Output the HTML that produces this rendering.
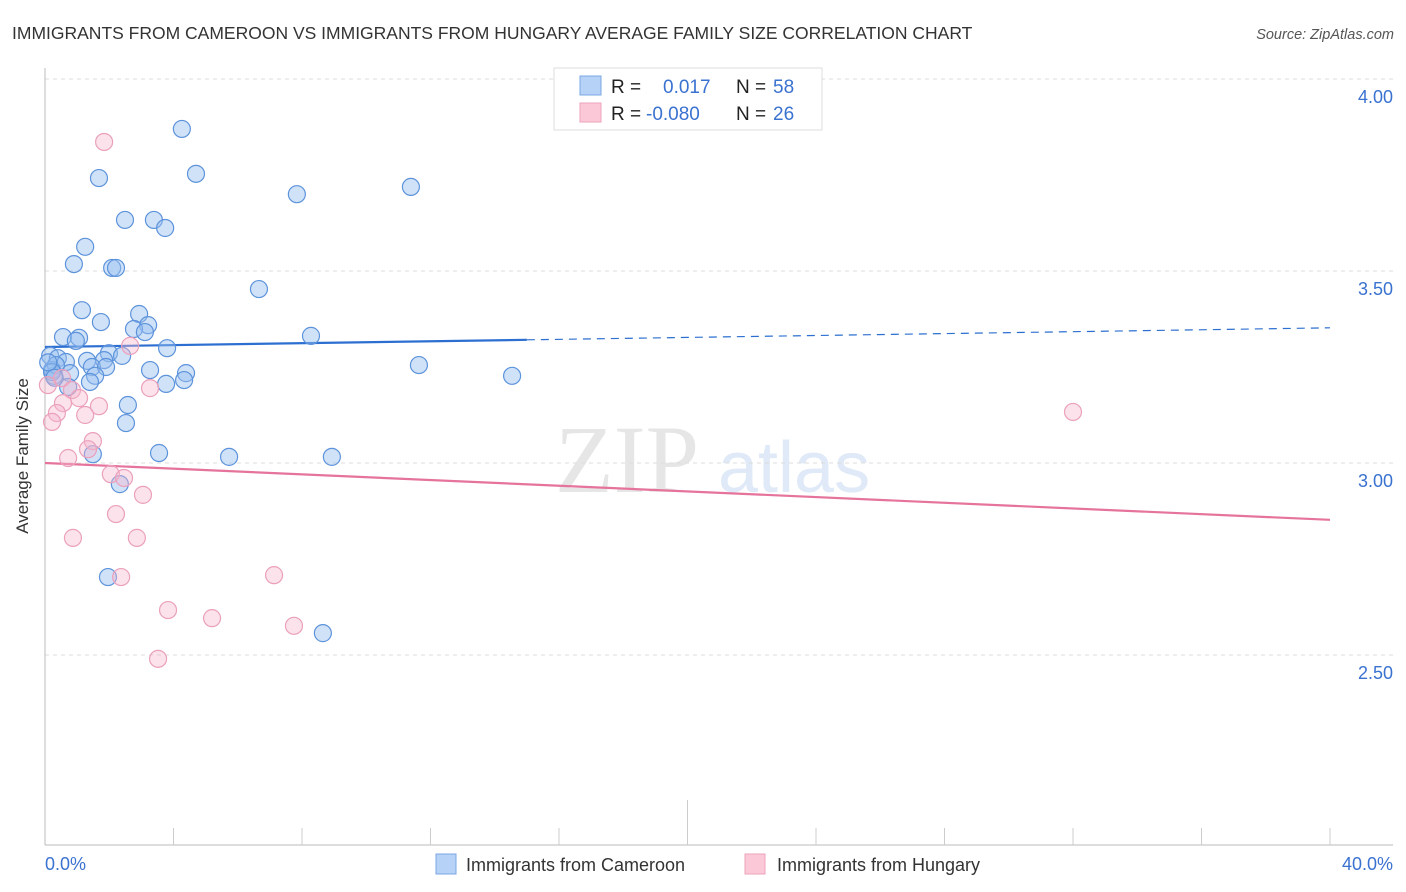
<!DOCTYPE html>
<html><head><meta charset="utf-8"><style>
body{margin:0;background:#fff;font-family:"Liberation Sans",sans-serif;}
svg{display:block}
</style></head><body>
<svg id="chart" width="1406" height="892" xmlns="http://www.w3.org/2000/svg">
<text x="12" y="39" font-size="17.5" fill="#333">IMMIGRANTS FROM CAMEROON VS IMMIGRANTS FROM HUNGARY AVERAGE FAMILY SIZE CORRELATION CHART</text>
<text x="1394" y="39" font-size="14.5" fill="#555" font-style="italic" text-anchor="end">Source: ZipAtlas.com</text>
<g>
<text x="555" y="492" font-family="Liberation Serif,serif" font-size="96" fill="#e6e6e6">ZIP</text>
<text x="718" y="492" font-size="72" fill="#dfe9f7">atlas</text>
</g>
<g id="grid"></g>
<g id="axes"></g>
<g id="lines"></g>
<g id="points"></g>
<text x="28" y="456" font-size="17" fill="#333" text-anchor="middle" transform="rotate(-90 28 456)">Average Family Size</text>
<g>
<rect x="554" y="68" width="268" height="62" fill="#fff" stroke="#ddd"/>
<rect x="580" y="76" width="21" height="19" fill="#b6d3f7" stroke="#7aa7e3"/>
<rect x="580" y="103" width="21" height="19" fill="#fbc8d7" stroke="#eea3bb"/>
<text y="93" font-size="19"><tspan x="611" fill="#222">R = </tspan><tspan x="663" fill="#3a72d0">0.017</tspan><tspan x="736" fill="#222">N = </tspan><tspan x="773" fill="#3a72d0">58</tspan></text>
<text y="120" font-size="19"><tspan x="611" fill="#222">R = </tspan><tspan x="646" fill="#3a72d0">-0.080</tspan><tspan x="736" fill="#222">N = </tspan><tspan x="773" fill="#3a72d0">26</tspan></text>
</g>
<g>
<rect x="436" y="854" width="20" height="20" fill="#b6d3f7" stroke="#7aa7e3"/>
<text x="466" y="871" font-size="18" fill="#333">Immigrants from Cameroon</text>
<rect x="745" y="854" width="20" height="20" fill="#fbc8d7" stroke="#eea3bb"/>
<text x="777" y="871" font-size="18" fill="#333">Immigrants from Hungary</text>
</g>
</svg>
<script>
const yTicks=[2.5,3.0,3.5,4.0];
const yTickLabels=["2.50","3.00","3.50","4.00"];
const xLabels=["0.0%","40.0%"];
const camX=[4.26,1.68,4.70,7.84,11.39,2.49,3.39,3.74,1.25,0.90,2.09,2.21,6.66,1.15,2.93,1.74,3.21,2.77,3.11,0.56,8.28,1.06,0.96,3.80,1.99,2.40,0.16,0.40,1.31,0.65,1.84,1.46,1.90,11.64,3.27,4.39,0.78,1.56,0.28,14.54,4.33,1.40,3.77,0.72,2.58,2.52,3.55,1.49,5.73,8.93,2.33,1.96,8.65,0.22,0.34,0.22,0.10,0.30];
const camY=[3.870,3.742,3.753,3.700,3.719,3.633,3.633,3.612,3.563,3.518,3.508,3.508,3.453,3.398,3.388,3.367,3.359,3.349,3.341,3.328,3.331,3.326,3.318,3.299,3.286,3.279,3.279,3.273,3.266,3.263,3.268,3.250,3.250,3.255,3.242,3.234,3.234,3.227,3.227,3.227,3.216,3.211,3.206,3.198,3.151,3.104,3.026,3.023,3.016,3.016,2.945,2.703,2.557,3.242,3.255,3.237,3.262,3.222];
const hunX=[1.84,2.65,0.09,0.53,0.84,3.27,1.06,0.56,1.68,0.37,1.25,0.22,1.49,1.34,32.0,0.72,2.05,2.46,3.05,2.21,0.87,2.86,2.37,7.13,3.83,5.20,7.75,3.52];
const hunY=[3.836,3.305,3.203,3.221,3.190,3.195,3.169,3.156,3.148,3.130,3.125,3.107,3.057,3.036,3.133,3.013,2.971,2.961,2.917,2.867,2.805,2.805,2.703,2.708,2.617,2.596,2.576,2.490];
const camTrend=[3.302,3.352];
const hunTrend=[3.0,2.852];
const camSolidEnd=15;
const NS="http://www.w3.org/2000/svg";
const X0=45,X1=1330;
const sx=v=>X0+v/40*(X1-X0);
const sy=v=>463-(v-3)*384;
function mk(tag,attrs,parent){const e=document.createElementNS(NS,tag);for(const k in attrs)e.setAttribute(k,attrs[k]);parent.appendChild(e);return e;}
const grid=document.getElementById('grid'),axes=document.getElementById('axes'),lines=document.getElementById('lines'),pts=document.getElementById('points');
yTicks.forEach((t,i)=>{
 const l=mk('line',{x1:X0,x2:1393,y1:sy(t),y2:sy(t),stroke:'#ddd','stroke-dasharray':'4,4'},grid);
 
 
 const tx=mk('text',{x:1393,y:sy(t)+24,'font-size':18,fill:'#3a72d0','text-anchor':'end'},grid);
 tx.textContent=yTickLabels[i];
 
 
});
const la=mk('line',{x1:X0,x2:X0,y1:68,y2:845,stroke:'#bbb'},axes);


const ba=mk('line',{x1:X0,x2:1393,y1:845,y2:845,stroke:'#bbb'},axes);


for(let i=1;i<=10;i++){
 const v=i*4;
 const tk=mk('line',{x1:sx(v),x2:sx(v),y1:(i==5?800:828),y2:845,stroke:'#ccc'},axes);
 
 
}
[[0,'start',45],[40,'end',1393]].forEach((d,i)=>{
 const t=mk('text',{x:d[2],y:870,'font-size':18,fill:'#3a72d0','text-anchor':d[1]},axes);
 t.textContent=xLabels[i];
 
 
});
const cy=v=>camTrend[0]+(camTrend[1]-camTrend[0])*v/40;
const c1=mk('line',{x1:sx(0),y1:sy(cy(0)),x2:sx(camSolidEnd),y2:sy(cy(camSolidEnd)),stroke:'#2c6fd1','stroke-width':2.2},lines);


const c2=mk('line',{x1:sx(camSolidEnd),y1:sy(cy(camSolidEnd)),x2:sx(40),y2:sy(cy(40)),stroke:'#2c6fd1','stroke-width':1.2,'stroke-dasharray':'8,6'},lines);


const h1=mk('line',{x1:sx(0),y1:sy(hunTrend[0]),x2:sx(40),y2:sy(hunTrend[1]),stroke:'#e5739b','stroke-width':2.2},lines);


camX.forEach((x,i)=>{
 const c=mk('circle',{cx:sx(x),cy:sy(camY[i]),r:8.5,fill:'rgba(150,190,240,0.45)',stroke:'#5d93db','stroke-width':1.2},pts);
 
 
});
hunX.forEach((x,i)=>{
 const c=mk('circle',{cx:sx(x),cy:sy(hunY[i]),r:8.5,fill:'rgba(246,182,205,0.4)',stroke:'#eba0bb','stroke-width':1.2},pts);
 
 
});
</script>
</body></html>
